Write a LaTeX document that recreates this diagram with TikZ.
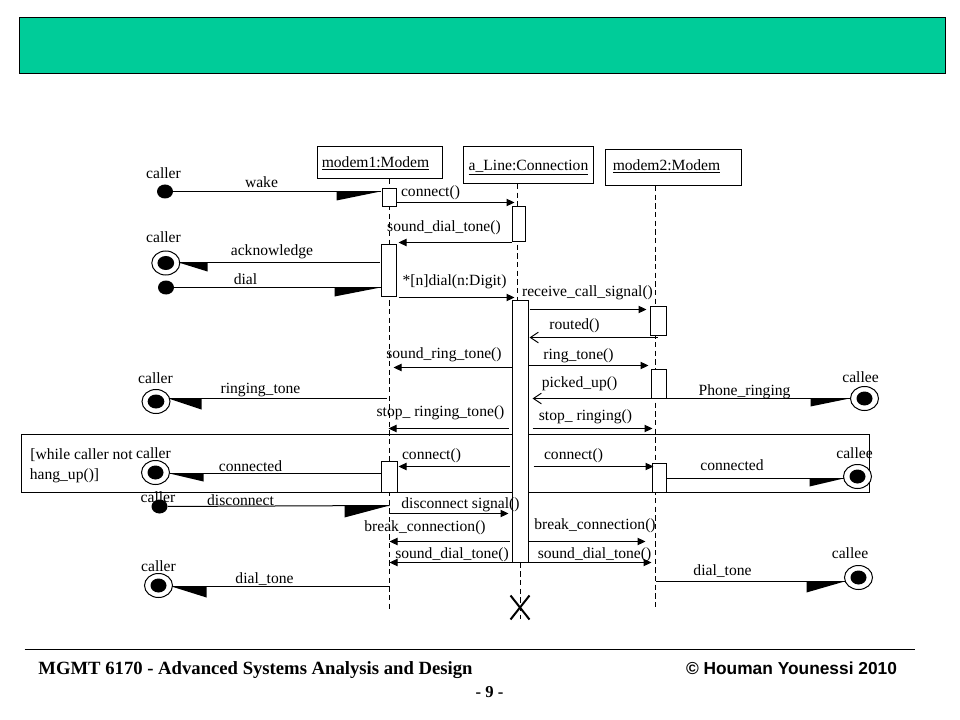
\documentclass[tikz,border=0pt]{standalone}
\usepackage{fontspec}
\setmainfont{Liberation Serif}
\newfontfamily\footsans{Liberation Sans}
\usepackage{xcolor}
\usetikzlibrary{arrows.meta,shapes.geometric}
\definecolor{BandGreen}{HTML}{00CC99}
\tikzstyle{bandBox}=[draw,fill=BandGreen,line width=0.75pt]
\tikzstyle{objBox}=[draw,fill=white,line width=0.75pt,inner sep=0pt]
\tikzstyle{actBox}=[draw,fill=white,line width=0.75pt,inner sep=0pt]
\tikzstyle{lifeLine}=[line width=0.75pt,dash pattern=on 4pt off 2.5pt]
\tikzstyle{callSolid}=[-{Triangle[length=6pt,width=5.5pt]},line width=0.75pt]
\tikzstyle{callOpen}=[-{Straight Barb[length=6pt,width=8pt]},line width=0.75pt]
\tikzstyle{signalLine}=[line width=0.75pt]
\tikzstyle{wedgeFill}=[fill=black]
\tikzstyle{actorDot}=[ellipse,fill=black,minimum width=12pt,minimum height=10.5pt,inner sep=0pt]
\tikzstyle{actorRing}=[ellipse,draw,fill=white,line width=0.75pt,minimum width=21pt,minimum height=18pt,inner sep=0pt]
\tikzstyle{msgText}=[inner sep=0pt,font=\fontsize{11.7pt}{14pt}\selectfont,text height=9.7pt,text depth=2.3pt]
\tikzstyle{footText}=[inner sep=0pt,text height=10.5pt,text depth=1.5pt]

\begin{document}
\begin{tikzpicture}[x=0.75pt,y=-0.75pt]
    \useasboundingbox (-0.5,-0.5) rectangle (959.5,719.5);
    % Title band and loop frame
    \node[bandBox,minimum width=694.5pt,minimum height=42pt,inner sep=0pt] (band) at (482,45) {};
    \node[draw,line width=0.75pt,minimum width=636pt,minimum height=43.5pt,inner sep=0pt] (loopFrame) at (445,463) {};

    % Objects
    \node[objBox,minimum width=93.75pt,minimum height=24pt] (modem1) at (379,162) {};
    \node[objBox,minimum width=97.5pt,minimum height=27.75pt] (aLine) at (528,164.5) {};
    \node[objBox,minimum width=102pt,minimum height=27pt] (modem2) at (673,167) {};

    % Lifelines
    \coordinate (m1End) at (388.5,608);
    \coordinate (aMid) at (517,300);
    \coordinate (aLow) at (520,562);
    \coordinate (aEnd) at (520,618);
    \coordinate (m2End) at (655,608);
    \draw[lifeLine] (modem1.south -| m1End) -- (m1End);
    \draw[lifeLine] (aLine.south -| aMid) -- (aMid);
    \draw[lifeLine] (aLow) -- (aEnd);
    \draw[lifeLine] (modem2.south -| m2End) -- (m2End);

    % Activations
    \node[actBox,minimum width=10.5pt,minimum height=13.5pt] (m1a) at (388.7,197) {};
    \node[actBox,minimum width=9.75pt,minimum height=26.25pt] (c1) at (518.5,223.5) {};
    \node[actBox,minimum width=11.25pt,minimum height=39pt] (m1b) at (388,270) {};
    \node[actBox,minimum width=12pt,minimum height=196.5pt] (c2) at (519.5,431) {};
    \node[actBox,minimum width=12pt,minimum height=21.75pt] (m2a) at (658,320.5) {};
    \node[actBox,minimum width=11.25pt,minimum height=21.75pt] (m2b) at (658.5,383.5) {};
    \node[actBox,minimum width=12pt,minimum height=23.25pt] (m1c) at (389,476.5) {};
    \node[actBox,minimum width=10.5pt,minimum height=21.75pt] (m2c) at (659,477.5) {};

    % Actors
    \node[actorDot] (wakeDot) at (164.5,191) {};
    \node[actorRing] (ackRing) at (165.3,262.5) {};
    \node[actorDot,minimum width=12.5pt] (ackDot) at (165.3,262.5) {};
    \node[actorDot] (dialDot) at (165.5,287) {};
    \node[actorRing] (ringRing) at (155.5,401) {};
    \node[actorDot,minimum width=12.5pt] (ringDot) at (155.5,401) {};
    \node[actorRing] (phoneRing) at (864,398) {};
    \node[actorDot] (phoneDot) at (864,398) {};
    \node[actorRing] (connRing) at (155,472) {};
    \node[actorDot] (connDot) at (155,472) {};
    \node[actorRing] (conneeRing) at (857,476) {};
    \node[actorDot] (conneeDot) at (857,476) {};
    \node[actorDot] (discDot) at (159,506) {};
    \node[actorRing] (toneRing) at (158,585) {};
    \node[actorDot] (toneDot) at (158,585) {};
    \node[actorRing] (toneeRing) at (858,577) {};
    \node[actorDot] (toneeDot) at (858,577) {};

    % Signals with wedge heads
    \coordinate (wakeTip) at (380,191);
    \draw[signalLine] (wakeDot) -- (wakeTip);
    \fill[wedgeFill] (wakeTip) -- ++(-44,0) -- ++(0,9) -- cycle;
    \coordinate (ackTail) at (379,262);
    \coordinate (ackTip) at (178,262);
    \draw[signalLine] (ackTail) -- (ackTip);
    \fill[wedgeFill] (ackTip) -- ++(29,0) -- ++(0,9) -- cycle;
    \coordinate (dialTip) at (380,287);
    \draw[signalLine] (dialDot) -- (dialTip);
    \fill[wedgeFill] (dialTip) -- ++(-46,0) -- ++(0,9) -- cycle;
    \coordinate (ringTail) at (386,398);
    \coordinate (ringTip) at (168,398);
    \draw[signalLine] (ringTail) -- (ringTip);
    \fill[wedgeFill] (ringTip) -- ++(33,0) -- ++(0,11) -- cycle;
    \coordinate (phoneTip) at (849,398);
    \draw[signalLine] (m2b.east |- phoneTip) -- (phoneTip);
    \fill[wedgeFill] (phoneTip) -- ++(-39,0) -- ++(0,8) -- cycle;
    \coordinate (connTip) at (169,473);
    \draw[signalLine] (m1c.west |- connTip) -- (connTip);
    \fill[wedgeFill] (connTip) -- ++(34,0) -- ++(0,8) -- cycle;
    \coordinate (conneeTip) at (843,478);
    \draw[signalLine] (m2c.east |- conneeTip) -- (conneeTip);
    \fill[wedgeFill] (conneeTip) -- ++(-34,0) -- ++(0,8) -- cycle;
    \coordinate (discTip) at (389,505);
    \draw[signalLine] (discDot) -- (discTip);
    \fill[wedgeFill] (discTip) -- ++(-45,0) -- ++(0,12) -- cycle;
    \coordinate (toneTail) at (389,586);
    \coordinate (toneTip) at (171,586);
    \draw[signalLine] (toneTail) -- (toneTip);
    \fill[wedgeFill] (toneTip) -- ++(35,0) -- ++(0,11) -- cycle;
    \coordinate (toneeTail) at (655,581);
    \coordinate (toneeTip) at (844,581);
    \draw[signalLine] (toneeTail) -- (toneeTip);
    \fill[wedgeFill] (toneeTip) -- ++(-38,0) -- ++(0,11) -- cycle;

    % Calls
    \coordinate (connectA) at (514,202);
    \draw[callSolid] (m1a.east |- connectA) -- (connectA);
    \coordinate (dialToneA) at (398,242);
    \draw[callSolid] (c1.west |- dialToneA) -- (dialToneA);
    \coordinate (digitA) at (398,297);
    \coordinate (digitB) at (514,297);
    \draw[callSolid] (digitA) -- (digitB);
    \coordinate (signalA) at (529,309);
    \coordinate (signalB) at (646,309);
    \draw[callSolid] (signalA) -- (signalB);
    \coordinate (routedA) at (657,337);
    \coordinate (routedB) at (529,337);
    \draw[callOpen] (routedA) -- (routedB);
    \coordinate (ringToneB) at (393,367);
    \draw[callSolid] (c2.west |- ringToneB) -- (ringToneB);
    \coordinate (phoneB) at (648,365);
    \draw[callSolid] (c2.east |- phoneB) -- (phoneB);
    \coordinate (pickedB) at (532,398);
    \draw[callOpen] (m2b.west |- pickedB) -- (pickedB);
    \coordinate (stopA) at (508,428);
    \coordinate (stopB) at (388,428);
    \draw[callSolid] (stopA) -- (stopB);
    \coordinate (stopC) at (532,428);
    \coordinate (stopD) at (652,428);
    \draw[callSolid] (stopC) -- (stopD);
    \coordinate (connA) at (509,466);
    \coordinate (connB) at (398,466);
    \draw[callSolid] (connA) -- (connB);
    \coordinate (connC) at (533,466);
    \coordinate (connD) at (653,466);
    \draw[callSolid] (connC) -- (connD);
    \coordinate (discA) at (389,513);
    \coordinate (discB) at (508,513);
    \draw[callSolid] (discA) -- (discB);
    \coordinate (breakA) at (509,541);
    \coordinate (breakB) at (389,541);
    \draw[callSolid] (breakA) -- (breakB);
    \coordinate (breakD) at (645,541);
    \draw[callSolid] (c2.east |- breakD) -- (breakD);
    \coordinate (dialLow) at (389,562);
    \draw[callSolid] (c2.west |- dialLow) -- (dialLow);
    \coordinate (dialHigh) at (651,562);
    \draw[callSolid] (c2.east |- dialHigh) -- (dialHigh);

    % Destruction mark
    \coordinate (crossA) at (510,595);
    \coordinate (crossB) at (529,619);
    \coordinate (crossC) at (510,619);
    \coordinate (crossD) at (529,595);
    \draw[line width=1.5pt] (crossA) -- (crossB);
    \draw[line width=1.5pt] (crossC) -- (crossD);

    % Object labels
    \node[msgText] (modem1Text) at (375,162) {\underline{modem1:Modem}};
    \node[msgText] (aLineText) at (528,165) {\underline{a\_Line:Connection}};
    \node[msgText] (modem2Text) at (666,165) {\underline{modem2:Modem}};

    % Actor labels
    \node[msgText] (callerA) at (163,173) {caller};
    \node[msgText] (callerB) at (163,237) {caller};
    \node[msgText] (callerC) at (155,378) {caller};
    \node[msgText] (callerD) at (153,453) {caller};
    \node[msgText] (callerE) at (157.5,497) {caller};
    \node[msgText] (callerF) at (158,566) {caller};
    \node[msgText] (calleeA) at (860,377) {callee};
    \node[msgText] (calleeB) at (854,453) {callee};
    \node[msgText] (calleeC) at (849.5,553) {callee};

    % Message labels
    \node[msgText] (wakeText) at (261,182) {wake};
    \node[msgText] (ackText) at (271.5,250) {acknowledge};
    \node[msgText] (dialText) at (245,279) {dial};
    \node[msgText] (ringText) at (260,388) {ringing\_tone};
    \node[msgText] (connText) at (250,466) {connected};
    \node[msgText] (discText) at (240,500) {disconnect};
    \node[msgText] (toneText) at (264,578) {dial\_tone};
    \node[msgText] (connectText) at (430,191) {connect()};
    \node[msgText] (dialToneText) at (443.5,226) {sound\_dial\_tone()};
    \node[msgText] (digitText) at (454,280) {*[n]dial(n:Digit)};
    \node[msgText] (signalText) at (587,291) {receive\_call\_signal()};
    \node[msgText] (routedText) at (574,324) {routed()};
    \node[msgText] (ringToneText) at (443.5,353) {sound\_ring\_tone()};
    \node[msgText] (phoneText) at (578,354) {ring\_tone()};
    \node[msgText] (pickedText) at (579,382) {picked\_up()};
    \node[msgText] (phoneRingText) at (744,390) {Phone\_ringing};
    \node[msgText] (stopLeftText) at (440,411) {stop\_ ringing\_tone()};
    \node[msgText] (stopRightText) at (585,415) {stop\_ ringing()};
    \node[msgText] (connLeftText) at (431,454) {connect()};
    \node[msgText] (connRightText) at (573,454) {connect()};
    \node[msgText] (conneeText) at (731.5,465) {connected};
    \node[msgText] (discSigText) at (460,503) {disconnect signal()};
    \node[msgText] (breakLeftText) at (424.5,526) {break\_connection()};
    \node[msgText] (breakRightText) at (594.5,524) {break\_connection()};
    \node[msgText] (dialLowText) at (451.5,553) {sound\_dial\_tone()};
    \node[msgText] (dialHighText) at (594,553) {sound\_dial\_tone()};
    \node[msgText] (toneeText) at (722,570) {dial\_tone};
    \node[msgText] (whileA) at (81,454) {[while caller not};
    \node[msgText] (whileB) at (64,474) {hang\_up()]};

    % Footer
    \coordinate (ruleA) at (24,649);
    \coordinate (ruleB) at (914,649);
    \draw[line width=0.75pt] (ruleA) -- (ruleB);
    \node[footText,font=\fontsize{14pt}{17pt}\selectfont\bfseries] (course) at (255,668) {MGMT 6170 - Advanced Systems Analysis and Design};
    \node[footText,font=\fontsize{13pt}{15pt}\selectfont\footsans\bfseries] (owner) at (791,668) {© Houman Younessi 2010};
    \node[footText,font=\fontsize{12.5pt}{14pt}\selectfont\bfseries] (pageNo) at (489,691) {- 9 -};
\end{tikzpicture}
\end{document}
